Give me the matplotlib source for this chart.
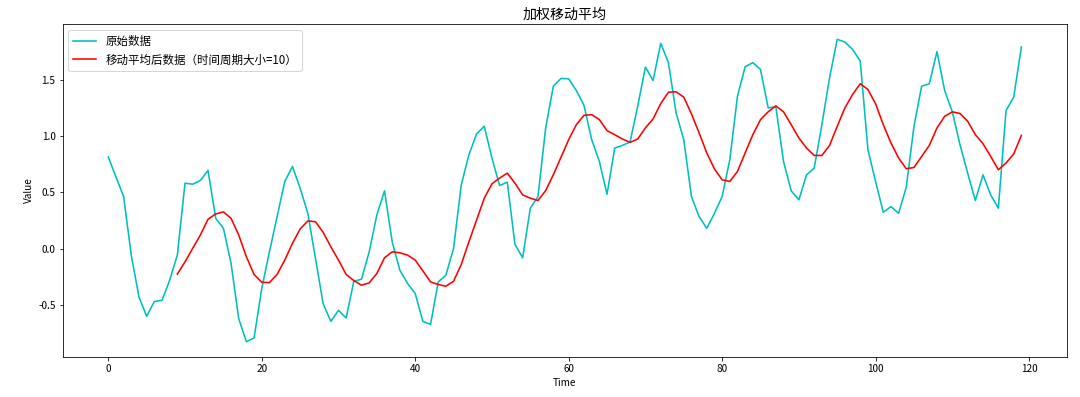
import matplotlib
matplotlib.use("Agg")
import matplotlib.pyplot as plt
import numpy as np

plt.rcParams['font.family'] = ['Noto Sans CJK SC', 'DejaVu Sans']
plt.rcParams['axes.unicode_minus'] = False

time_index = list(range(120))
original = [
    0.814, 0.636, 0.463, -0.06, -0.427, -0.599, -0.468, -0.457, -0.279, -0.056,
    0.582, 0.573, 0.606, 0.695, 0.271, 0.182, -0.13, -0.62, -0.825, -0.79,
    -0.353, -0.027, 0.285, 0.597, 0.730, 0.538, 0.315, -0.086, -0.486, -0.644,
    -0.546, -0.614, -0.288, -0.27, -0.027, 0.30, 0.514, 0.062, -0.19, -0.308,
    -0.397, -0.644, -0.671, -0.294, -0.234, 0.004, 0.567, 0.834, 1.019, 1.087,
    0.805, 0.561, 0.591, 0.039, -0.08, 0.36, 0.463, 1.072, 1.443, 1.511,
    1.508, 1.404, 1.271, 0.968, 0.775, 0.484, 0.894, 0.917, 0.947, 1.265,
    1.612, 1.493, 1.823, 1.651, 1.206, 0.968, 0.463, 0.285, 0.182, 0.315,
    0.463, 0.79, 1.354, 1.615, 1.651, 1.591, 1.25, 1.259, 0.775, 0.514,
    0.434, 0.656, 0.716, 1.101, 1.517, 1.858, 1.834, 1.769, 1.665, 0.879,
    0.597, 0.324, 0.374, 0.315, 0.547, 1.086, 1.443, 1.464, 1.749, 1.404,
    1.215, 0.923, 0.671, 0.428, 0.656, 0.478, 0.36, 1.226, 1.345, 1.79,
]
smoothed_index = list(range(9, 120))
smoothed = [
    -0.225, -0.116, 0.004, 0.122, 0.262, 0.309, 0.327, 0.27, 0.122, -0.071,
    -0.228, -0.297, -0.30, -0.228, -0.10, 0.048, 0.175, 0.247, 0.24, 0.146,
    0.018, -0.10, -0.228, -0.282, -0.323, -0.303, -0.219, -0.08, -0.027, -0.036,
    -0.056, -0.10, -0.196, -0.294, -0.317, -0.332, -0.288, -0.139, 0.062, 0.255,
    0.449, 0.576, 0.627, 0.671, 0.582, 0.478, 0.449, 0.428, 0.516, 0.656,
    0.812, 0.968, 1.101, 1.184, 1.19, 1.146, 1.048, 1.012, 0.974, 0.944,
    0.974, 1.072, 1.152, 1.288, 1.389, 1.393, 1.345, 1.197, 1.028, 0.85,
    0.708, 0.612, 0.597, 0.686, 0.85, 1.012, 1.146, 1.215, 1.268, 1.215,
    1.101, 0.983, 0.894, 0.828, 0.828, 0.917, 1.086, 1.25, 1.369, 1.464,
    1.413, 1.286, 1.101, 0.939, 0.805, 0.71, 0.721, 0.819, 0.917, 1.072,
    1.175, 1.215, 1.2, 1.131, 1.012, 0.932, 0.819, 0.701, 0.761, 0.841,
    1.006,
]

fig = plt.figure(figsize=(15, 397 / 72), dpi=72)
ax = fig.add_axes([0.058, 0.101, 0.930, 0.838])
ax.plot(time_index, original, color='c', linewidth=1.6, label='原始数据')
ax.plot(smoothed_index, smoothed, color='r', linewidth=1.6,
        label='移动平均后数据（时间周期大小=10）')
ax.set_title('加权移动平均', fontsize=14, pad=5)
ax.set_xlabel('Time', fontsize=10)
ax.set_ylabel('Value', fontsize=10)
ax.tick_params(labelsize=10)
ax.legend(loc='upper left', fontsize=11.5)
fig.savefig('out.png', dpi=72)
